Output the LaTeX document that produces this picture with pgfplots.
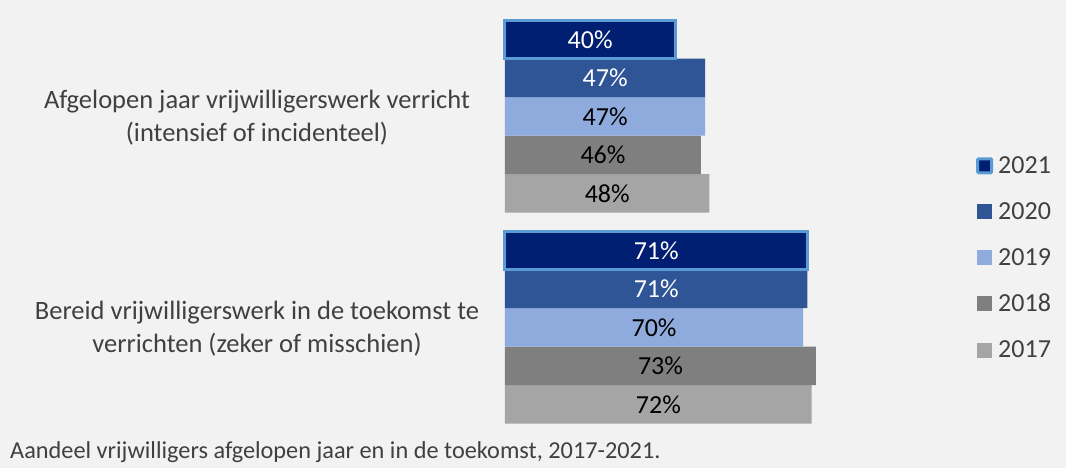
\documentclass[border=0pt]{standalone}
\usepackage{pgfplots}
\pgfplotsset{compat=1.18}
\usepackage{fontspec}
\setmainfont{Carlito}
\definecolor{bg}{HTML}{F2F2F2}
\definecolor{c21}{HTML}{001E72}
\definecolor{c21b}{HTML}{5B9BD5}
\definecolor{c20}{HTML}{2F5597}
\definecolor{c19}{HTML}{8FAADC}
\definecolor{c18}{HTML}{7F7F7F}
\definecolor{c17}{HTML}{A5A5A5}
\definecolor{txt}{HTML}{404040}
\newcommand\catf{\fontsize{26.5}{33}\selectfont}
\newcommand\labf{\fontsize{26}{32}\selectfont}
\newcommand\capf{\fontsize{24.3}{30}\selectfont}
\begin{document}
\begin{tikzpicture}[x=1pt,y=1pt]
\fill[bg] (0,0) rectangle (1066,468);
\begin{axis}[
  at={(505pt,35pt)}, anchor=south west,
  scale only axis, width=426pt, height=422pt,
  xbar=0pt, bar width=38.5pt,
  xmin=0, xmax=100, ymin=-0.5, ymax=1.5,
  enlargelimits=false, clip=false,
  axis line style={draw=none},
  xtick=\empty, ytick={0,1},
  yticklabels={{Bereid vrijwilligerswerk in de toekomst te\\verrichten (zeker of misschien)},{Afgelopen jaar vrijwilligerswerk verricht\\(intensief of incidenteel)}},
  major tick length=0pt,
  yticklabel style={align=center, anchor=center, xshift=-248pt, yshift=-1.5pt, font=\catf, text=txt},
  point meta=x,
  /pgf/number format/assume math mode=true,
  visualization depends on=x \as \rawx,
  nodes near coords={\pgfmathprintnumber{\pgfplotspointmeta}\%},
  every node near coord/.append style={font=\labf, text=black, anchor=center, shift={(axis direction cs:-\rawx/2,0)}},
  legend style={at={(1.0986,0.4147)}, anchor=west, draw=none, fill=none, font=\labf, text=txt, row sep=23.5pt},
  legend cell align=left,
  reverse legend,
  mybar/.style={legend image code/.code={\fill[##1] (0pt,-7.5pt) rectangle (15pt,7.5pt); \path[draw=none,fill=none] (0pt,0pt) rectangle (19pt,1pt);}},
  mybarB/.style={legend image code/.code={\filldraw[##1, rounded corners=1pt] (0.5pt,-7pt) rectangle (14.5pt,7pt); \path[draw=none,fill=none] (0pt,0pt) rectangle (19pt,1pt);}},
]
\addplot[mybar, fill=c17, draw=none] coordinates {(72,0) (48,1)};
\addplot[mybar, fill=c18, draw=none] coordinates {(73,0) (46,1)};
\addplot[mybar, fill=c19, draw=none] coordinates {(70,0) (47,1)};
\addplot[mybar, fill=c20, draw=none, nodes near coords style={text=white}] coordinates {(71,0) (47,1)};
\addplot[mybarB, fill=c21, draw=c21b, line width=3pt, nodes near coords style={text=white}] coordinates {(71,0) (40,1)};
\legend{2017,2018,2019,2020,2021}
\end{axis}
\node[anchor=base west, font=\capf, text=txt, inner sep=0pt] at (10,9) {Aandeel vrijwilligers afgelopen jaar en in de toekomst, 2017-2021.};
\end{tikzpicture}
\end{document}
